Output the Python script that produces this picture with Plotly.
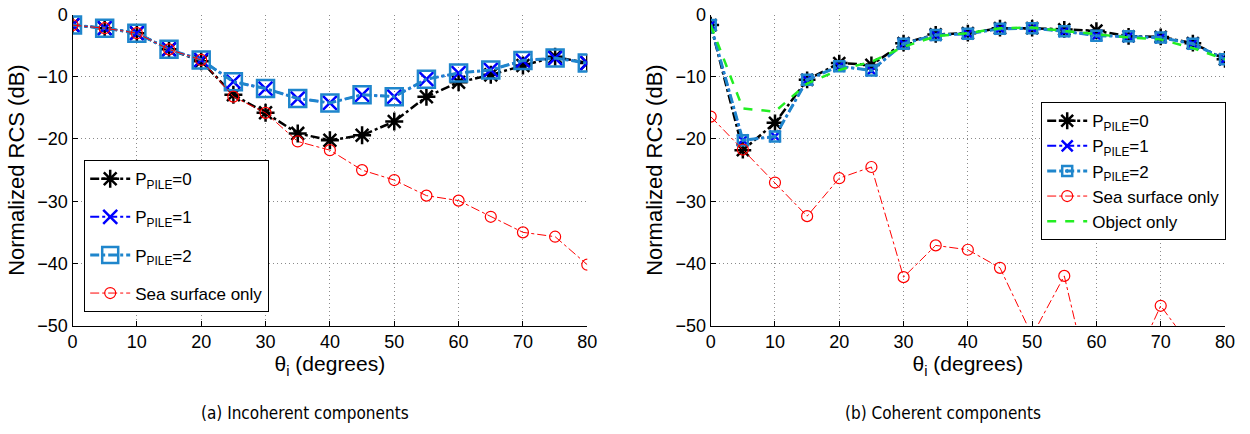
import plotly.graph_objects as go

theta = [0, 5, 10, 15, 20, 25, 30, 35, 40, 45, 50, 55, 60, 65, 70, 75, 80]

# (a) Incoherent components
inc_p0 = [-1.7, -2.2, -3.0, -5.6, -7.5, -12.9, -15.8, -19.1, -20.2, -19.4, -17.2, -13.2, -10.9, -9.7, -8.2, -6.8, -7.8]
inc_p1 = [-1.7, -2.2, -3.0, -5.6, -7.3, -10.8, -11.9, -13.5, -14.2, -12.9, -13.2, -10.4, -9.4, -8.9, -7.4, -7.0, -7.8]
inc_p2 = [-1.7, -2.2, -3.0, -5.6, -7.3, -10.8, -11.9, -13.5, -14.2, -12.9, -13.2, -10.4, -9.4, -8.9, -7.4, -7.0, -7.8]
inc_sea = [-1.7, -2.2, -3.0, -5.6, -7.3, -13.2, -15.8, -20.4, -21.8, -25.0, -26.6, -29.1, -29.9, -32.5, -35.0, -35.7, -40.2]

# (b) Coherent components
coh_p0 = [-1.7, -21.8, -17.4, -10.5, -7.8, -8.1, -4.6, -3.2, -3.0, -2.2, -2.2, -2.4, -2.6, -3.5, -3.6, -4.6, -7.2]
coh_p1 = [-1.7, -20.2, -19.6, -10.5, -8.3, -9.0, -4.7, -3.3, -3.1, -2.3, -2.2, -2.7, -3.4, -3.5, -3.7, -4.7, -7.2]
coh_p2 = [-1.7, -20.2, -19.6, -10.5, -8.3, -9.0, -4.7, -3.3, -3.1, -2.3, -2.2, -2.7, -3.4, -3.5, -3.7, -4.7, -7.2]
coh_sea = [-16.4, -21.7, -27.0, -32.4, -26.3, -24.5, -42.2, -37.1, -37.8, -40.7, -51.6, -42.0, -64.0, -58.0, -46.8, -53.8, -60.0]
coh_obj = [-1.7, -15.1, -15.6, -11.1, -8.9, -7.6, -5.2, -3.5, -3.0, -2.2, -2.1, -2.6, -3.2, -3.7, -4.0, -5.4, -7.2]

names = ["P<sub>PILE</sub>=0", "P<sub>PILE</sub>=1", "P<sub>PILE</sub>=2", "Sea surface only", "Object only"]
x_ticks = [0, 10, 20, 30, 40, 50, 60, 70, 80]
y_ticks = [0, -10, -20, -30, -40, -50]

BLACK = "#000000"
BLUE = "#0000ff"
LBLUE = "#1f86cc"
RED = "#ff0000"
GREEN = "#22ee22"
FONT = "Liberation Sans, Arial, sans-serif"
CAPFONT = "DejaVu Sans Condensed, Liberation Sans Narrow, sans-serif"

fig = go.Figure()

def add(x, y, name, color, dash, lw, symbol, msize, mcolor, mlw, xa, ya, legend, group):
    fig.add_trace(go.Scatter(
        x=x, y=y, name=name, mode="lines+markers" if symbol else "lines",
        line=dict(color=color, dash=dash, width=lw),
        marker=dict(symbol=symbol or "circle", size=msize, color=mcolor,
                    line=dict(color=mcolor, width=mlw)),
        xaxis=xa, yaxis=ya, legend=legend, legendgroup=group,
    ))

# left panel
add(theta, inc_p0, names[0], BLACK, "dashdot", 2.5, "asterisk-open", 15, BLACK, 2.5, "x", "y", "legend", "a0")
add(theta, inc_p1, names[1], BLUE, "dashdot", 2, "x-thin-open", 14, BLUE, 2.5, "x", "y", "legend", "a1")
add(theta, inc_p2, names[2], LBLUE, "dashdot", 3, "square-open", 17, LBLUE, 2.5, "x", "y", "legend", "a2")
add(theta, inc_sea, names[3], RED, "dashdot", 1, "circle-open", 11, RED, 1.2, "x", "y", "legend", "a3")

# right panel
add(theta, coh_p0, names[0], BLACK, "dashdot", 2.5, "asterisk-open", 14, BLACK, 2.5, "x2", "y2", "legend2", "b0")
add(theta, coh_p1, names[1], BLUE, "dashdot", 2, "x-thin-open", 11, BLUE, 2.5, "x2", "y2", "legend2", "b1")
add(theta, coh_p2, names[2], LBLUE, "dashdot", 3, "square-open-dot", 10, LBLUE, 2.5, "x2", "y2", "legend2", "b2")
add(theta, coh_sea, names[3], RED, "dashdot", 1, "circle-open", 11, RED, 1.2, "x2", "y2", "legend2", "b3")
add(theta, coh_obj, names[4], GREEN, "dash", 2.5, None, 6, GREEN, 1, "x2", "y2", "legend2", "b4")

W, H = 1250, 434
xl = [72.5 / W, 587.3 / W]
xr = [710.7 / W, 1225.0 / W]
yd = [1 - 325.7 / H, 1 - 14.5 / H]

axis_common = dict(
    showline=True, linecolor="black", linewidth=1.2, mirror=False,
    ticks="inside", ticklen=5, tickcolor="black", tickwidth=1,
    showgrid=True, gridcolor="#8a8a8a", griddash="1px,3px", gridwidth=1,
    zeroline=False, tickfont=dict(family=FONT, size=18, color="black"),
    automargin=False,
)
xtitle = dict(text="θ<sub>i</sub> (degrees)", font=dict(size=21), standoff=2)
ytitle = dict(text="Normalized RCS (dB)", font=dict(size=22), standoff=6)

fig.update_layout(
    width=W, height=H, margin=dict(l=0, r=0, t=0, b=0),
    paper_bgcolor="white", plot_bgcolor="white",
    font=dict(family=FONT, color="black"),
    xaxis=dict(domain=xl, range=[0, 80], tickvals=x_ticks, anchor="y", title=xtitle, **axis_common),
    yaxis=dict(domain=yd, range=[-50, 0], tickvals=y_ticks, anchor="x", title=ytitle, **axis_common),
    xaxis2=dict(domain=xr, range=[0, 80], tickvals=x_ticks, anchor="y2", title=xtitle, **axis_common),
    yaxis2=dict(domain=yd, range=[-50, 0], tickvals=y_ticks, anchor="x2", title=ytitle, **axis_common),
    legend=dict(x=84 / W, y=1 - 160 / H, xanchor="left", yanchor="top",
                bgcolor="white", bordercolor="black", borderwidth=1.2,
                font=dict(family=FONT, size=17), traceorder="grouped", tracegroupgap=13,
                itemwidth=40),
    legend2=dict(x=1041 / W, y=1 - 102 / H, xanchor="left", yanchor="top",
                 bgcolor="white", bordercolor="black", borderwidth=1.2,
                 font=dict(family=FONT, size=17), traceorder="grouped", tracegroupgap=0,
                 itemwidth=40),
    showlegend=True,
    annotations=[
        dict(text="(a) Incoherent components", x=304.5 / W, y=1 - 413 / H, xref="paper", yref="paper",
             xanchor="center", yanchor="middle", showarrow=False, font=dict(family=CAPFONT, size=17)),
        dict(text="(b) Coherent components", x=942.5 / W, y=1 - 413 / H, xref="paper", yref="paper",
             xanchor="center", yanchor="middle", showarrow=False, font=dict(family=CAPFONT, size=17)),
    ],
)

fig.write_html("out.html")
